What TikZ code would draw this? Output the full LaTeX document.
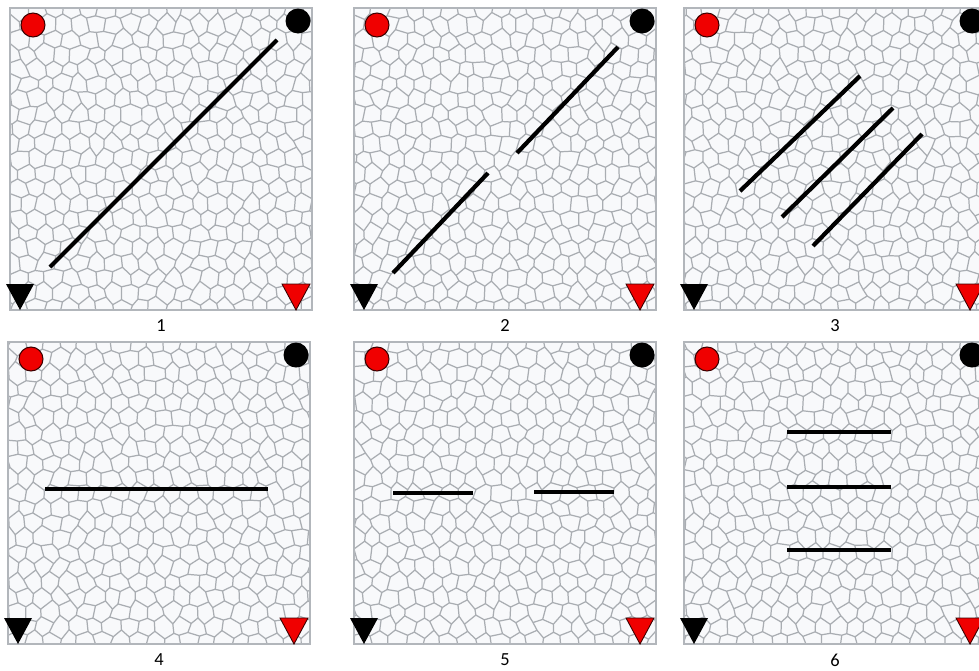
\documentclass[tikz,border=0pt]{standalone}
\usepackage{fontspec}
\setmainfont{Carlito}
\usetikzlibrary{calc}
\definecolor{meshgrey}{HTML}{A9ADB2}
\definecolor{framegrey}{HTML}{B2B6BB}
\definecolor{panelbg}{HTML}{F8F9FB}
\definecolor{wellred}{HTML}{F00000}
\definecolor{welledge}{HTML}{3A0000}

\newcommand\voronoipanel[5]{%
  \begin{scope}[shift={(#1,#2)}]
    \begin{scope}
      \clip (0,0) rectangle (302,302);
      \fill[panelbg] (0,0) rectangle (302,302);
      \pgfmathsetseed{#3}
      \foreach \j in {0,...,22}{
        \foreach \i in {0,...,38}{
          \pgfmathsetmacro\vx{8.6*\i-8+2.4*rand}
          \pgfmathsetmacro\vy{14.9*\j-8+5*mod(\i+\j,2)+2.4*rand}
          \coordinate (m\i-\j) at (\vx,\vy);
        }
      }
      \foreach \j in {0,...,22}{
        \draw[mesh] (m0-\j) \foreach \i in {1,...,38}{ -- (m\i-\j)};
      }
      \foreach \j in {0,...,21}{
        \pgfmathtruncatemacro\jn{\j+1}
        \pgfmathtruncatemacro\ia{mod(\j+1,2)}
        \pgfmathtruncatemacro\ib{\ia+2}
        \draw[mesh] \foreach \i in {\ia,\ib,...,38}{(m\i-\j) -- (m\i-\jn)};
      }
    \end{scope}
    \draw[frame] (0,0) rectangle (302,302);
    \draw[fracture] #4;
    \fill[wellred,draw=welledge,line width=0.6pt] (23,17) circle [radius=0.24cm];
    \fill[black] (288,13) circle [radius=0.25cm];
    \fill[black] (-4,276) -- (24,276) -- (10,302) -- cycle;
    \fill[wellred,draw=welledge,line width=0.5pt] (272,276) -- (300,276) -- (286,302) -- cycle;
  \end{scope}
  \node[lbl] (case#5) at (#1+151,#2+318) {#5};
}

\begin{document}
\begin{tikzpicture}[x=0.02cm,y=-0.02cm,
  mesh/.style={draw=meshgrey,line width=0.7pt,line join=round},
  frame/.style={draw=framegrey,line width=1.1pt},
  fracture/.style={draw=black,line width=2.4pt},
  lbl/.style={inner sep=0pt,font=\fontsize{10.5}{12}\selectfont}]
\useasboundingbox (0,0) rectangle (979,670);
\clip (0,0) rectangle (979,670);
\voronoipanel{10}{8}{11}{(40,259) -- (267,32)}{1}
\voronoipanel{354}{8}{23}{(39,265) -- (134,165) (163,145) -- (264,39)}{2}
\voronoipanel{684}{8}{37}{(56,183) -- (176,68) (98,209) -- (209,100) (129,238) -- (238,126)}{3}
\voronoipanel{8}{342}{41}{(37,147) -- (260,147)}{4}
\voronoipanel{354}{342}{53}{(39,151) -- (119,151) (180,150) -- (260,150)}{5}
\voronoipanel{684}{342}{67}{(103,90) -- (207,90) (103,145) -- (207,145) (103,208) -- (207,208)}{6}
\end{tikzpicture}
\end{document}
